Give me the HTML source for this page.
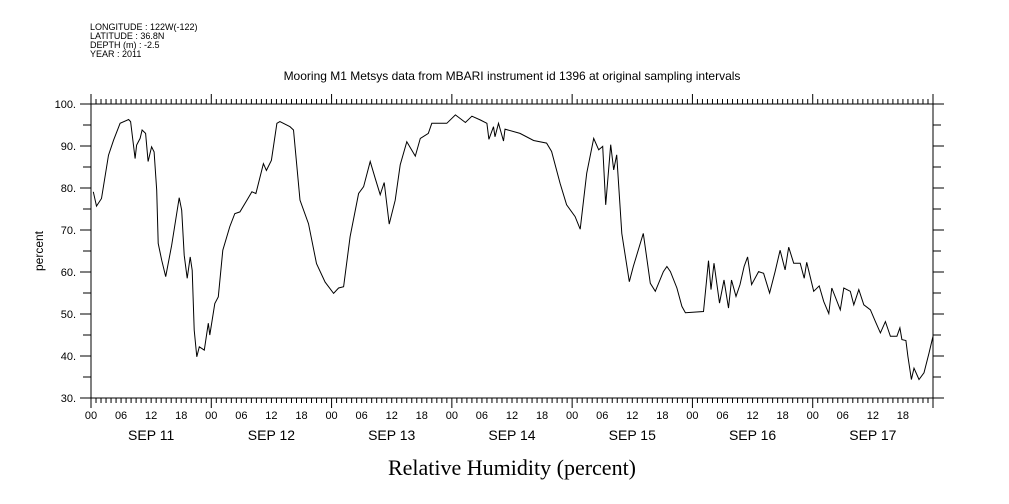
<!DOCTYPE html>
<html><head><meta charset="utf-8"><style>
body{margin:0;background:#fff;width:1009px;height:504px;overflow:hidden}
svg{display:block}
text{font-family:"Liberation Sans",sans-serif;fill:#000}
</style></head><body>
<svg id="chart" width="1009" height="504" viewBox="0 0 1009 504">
<g font-size="9">
<text x="90" y="30">LONGITUDE : 122W(-122)</text>
<text x="90" y="39">LATITUDE : 36.8N</text>
<text x="90" y="48">DEPTH (m) : -2.5</text>
<text x="90" y="57">YEAR : 2011</text>
</g>
<text x="512" y="80" text-anchor="middle" font-size="12">Mooring M1 Metsys data from MBARI instrument id 1396 at original sampling intervals</text>
<text transform="translate(43,251) rotate(-90)" text-anchor="middle" font-size="12">percent</text>
<text x="512" y="475" text-anchor="middle" font-size="22" style="font-family:'Liberation Serif',serif">Relative Humidity (percent)</text>
<g id="axes"></g>
<path id="line" fill="none" stroke="#000" stroke-width="1"/>
</svg>
<script>
const hours=[0.46,1.1,2.1,3.5,4.5,5.8,7.5,7.9,8.8,9.1,9.8,10.2,10.9,11.4,12.1,12.6,13.1,13.4,14.1,14.9,16.1,17.6,18.1,18.6,19.2,19.8,20.2,20.6,21.1,21.6,22.6,23.4,23.7,24.7,25.4,26.3,27.7,28.7,29.7,31.1,32.1,32.9,34.4,35,36,37.1,37.7,39.7,40.4,41.7,43.4,45,46.7,48.4,49.4,50.4,51.7,53.4,54.4,55.7,56.7,57.7,58.5,59.5,60.7,61.7,63,64.7,65.7,67.3,68,71,72.7,74.7,76,77.7,79,79.4,80.3,80.6,81.3,82.3,82.6,85.6,88.3,90.9,91.9,93.6,94.9,96.6,97.6,98.9,100.3,101.3,102.1,102.7,103.7,104.3,104.9,105.9,107.4,108.2,110.2,111.6,112.6,114.2,114.9,115.6,116.9,117.9,118.6,122.2,123.2,123.7,124.3,125.4,126.3,127.2,127.8,128.7,129.5,130.3,131,131.8,133.2,134.2,135.4,136.5,137.5,138.5,139.2,140.2,141.5,142.3,142.8,144.2,145.3,146.2,147.2,147.8,149.5,150.2,151.5,152.2,153.2,154.2,155.5,156.5,157.5,158.5,159.5,160.8,161.4,161.8,162.6,163,163.7,164.2,165.2,166.2,167.2,168];
const humidity=[79.1,75.7,77.5,87.8,91.4,95.4,96.3,95.8,87,90.2,91.8,93.8,93,86.3,89.8,88.6,79.5,66.8,62.8,58.9,66.4,77.7,74.7,64,58.5,63.6,60.4,46.2,39.8,42.2,41.4,47.8,45,52.5,54.1,65.2,70.8,73.9,74.3,77.1,79.1,78.7,85.8,84.2,86.6,95.4,95.8,94.6,93.8,77.1,71.5,62,57.6,54.9,56.2,56.5,68.4,78.7,80.3,86.3,82.3,78.4,81.3,71.4,77.1,85.5,91,87.6,91.8,93,95.4,95.4,97.4,95.6,97.1,96.2,95.4,91.6,94.6,92.2,95.4,91.2,94,93,91.3,90.7,88.7,81.1,76,73.2,70.2,83.5,91.8,89.1,89.9,76,90.3,84.3,87.9,69.2,57.7,61.3,69.2,57.3,55.4,60.1,61.3,60.1,56.2,51.8,50.3,50.6,62.7,55.8,62.1,52.6,58.1,51.4,58.1,54.2,57,61.3,63.6,57,60.1,59.7,55,60.1,65.2,60.5,65.9,62.1,62.1,58.5,62.3,55.4,56.7,53,50.1,56.2,51,56.2,55.4,52.2,55.8,52.2,51,48.2,45.5,48.2,44.7,44.7,46.7,43.9,43.7,39.9,34.4,37.1,34.4,36,40.7,44.7];
const yTicks=[30,40,50,60,70,80,90,100];
const hourLabels=["00","06","12","18"];
const dayLabels=["SEP 11","SEP 12","SEP 13","SEP 14","SEP 15","SEP 16","SEP 17"];
const X0=91,X1=933,Y0=104,Y1=398,TMAX=168,VMIN=30,VMAX=100;
const xs=t=>X0+(X1-X0)*t/TMAX;
const ys=v=>Y1-(Y1-Y0)*(v-VMIN)/(VMAX-VMIN);
const NS="http://www.w3.org/2000/svg";
const ax=document.getElementById('axes');
let d="";
d+=`M${X0},${Y0}H${X1}V${Y1}H${X0}Z`;
for(let v=VMIN;v<=VMAX;v+=5){const y=ys(v);const L=(v%10===0)?11:8;d+=`M${X0-L},${y}H${X0}M${X1},${y}H${X1+L}`;}
for(let h=0;h<=TMAX;h++){const x=xs(h);const L=(h%24===0)?10:5;d+=`M${x},${Y0}V${Y0-L}M${x},${Y1}V${Y1+L}`;}
const p=document.createElementNS(NS,'path');


p.setAttribute('d',d);p.setAttribute('stroke','#000');p.setAttribute('fill','none');p.setAttribute('stroke-width','1');
ax.appendChild(p);
function txt(x,y,s,size,anchor){const t=document.createElementNS(NS,'text');t.setAttribute('x',x);t.setAttribute('y',y);t.setAttribute('font-size',size);t.setAttribute('text-anchor',anchor);t.textContent=s;ax.appendChild(t);return t;}
yTicks.forEach(v=>{const t=txt(76,ys(v)+4,v+".",11,"end");

});
for(let h=0;h<TMAX;h+=6){const t=txt(xs(h),419,hourLabels[(h/6)%4],11,"middle");

}
dayLabels.forEach((s,i)=>{const t=txt(xs(i*24+12),440,s,14,"middle");

});
document.getElementById('line').setAttribute('d',hours.map((t,i)=>(i?'L':'M')+xs(t).toFixed(1)+','+ys(humidity[i]).toFixed(1)).join(''));
</script>
</body></html>
